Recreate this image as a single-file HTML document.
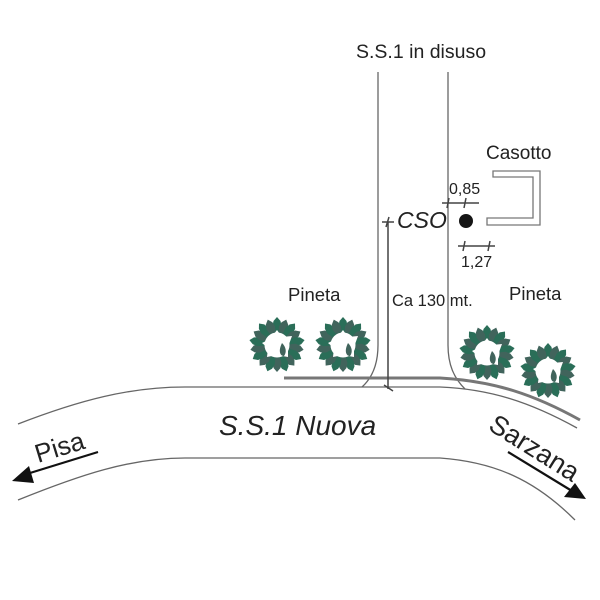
<!DOCTYPE html>
<html>
<head>
<meta charset="utf-8">
<style>
html,body{margin:0;padding:0;background:#fff;}
svg{display:block;}
text{font-family:"Liberation Sans",Arial,sans-serif;fill:#222;}
</style>
</head>
<body>
<svg width="600" height="600" viewBox="0 0 600 600" xmlns="http://www.w3.org/2000/svg">
<defs>
<path id="la" d="M0,-28 L3.5,-24 L4.5,-19 L3,-13 L-3,-13 L-4.5,-19 L-3.5,-24 Z" fill="#2a6e58"/>
<path id="lb" d="M0,-27 L3.5,-23 L4.5,-18 L3,-13 L-3,-13 L-4.5,-18 L-3.5,-23 Z" fill="#41645c"/>
<g id="tree">
  <circle r="17" fill="none" stroke="#37685a" stroke-width="9"/>
  <use href="#la" transform="rotate(0)"/>
  <use href="#lb" transform="rotate(20)"/>
  <use href="#la" transform="rotate(40)"/>
  <use href="#lb" transform="rotate(60)"/>
  <use href="#la" transform="rotate(80)"/>
  <use href="#lb" transform="rotate(100)"/>
  <use href="#la" transform="rotate(120)"/>
  <use href="#lb" transform="rotate(140)"/>
  <use href="#la" transform="rotate(160)"/>
  <use href="#lb" transform="rotate(180)"/>
  <use href="#la" transform="rotate(200)"/>
  <use href="#lb" transform="rotate(220)"/>
  <use href="#la" transform="rotate(240)"/>
  <use href="#lb" transform="rotate(260)"/>
  <use href="#la" transform="rotate(280)"/>
  <use href="#lb" transform="rotate(300)"/>
  <use href="#la" transform="rotate(320)"/>
  <use href="#lb" transform="rotate(340)"/>
  <polygon points="0,-15 5,-8 15,-9 11,2 11,12 0,10 -10,12 -9,3 -15,-2 -7,-6" fill="#fff"/>
  <path d="M5,-2 C9,2 10,7 7,11 C3,11 1,6 5,-2Z" fill="#41645c"/>
</g>
</defs>

<!-- road edges -->
<g fill="none" stroke="#666" stroke-width="1.3">
  <path d="M18,424 C80,400 130,387 185,387 L440,387 C490,389 530,402 577,428"/>
  <path d="M18,500 C80,475 130,458 185,458 L440,458 C495,462 535,480 575,520"/>
  <path d="M378,72 L378,345 C378,365 372,378 362,387"/>
  <path d="M448,72 L448,345 C448,365 454,378 465,389"/>
</g>
<path d="M284,378 L440,378 C495,381 535,395 580,420" fill="none" stroke="#777" stroke-width="3"/>

<!-- dimension line -->
<g fill="none" stroke="#444" stroke-width="1.5">
  <path d="M388,222 L388,389"/>
  <path d="M382,222 L394,222 M389,217 L386,227"/>
  <path d="M384,385 L393,391"/>
  <path d="M442,203 L479,203 M449,198 L447,208 M466,198 L464,208"/>
  <path d="M458,246 L495,246 M465,241 L463,251 M490,241 L488,251"/>
</g>

<!-- casotto -->
<polygon points="493,171 540,171 540,225 487,225 487,218 533,218 533,177 493,177" fill="none" stroke="#777" stroke-width="1.3"/>
<circle cx="466" cy="221" r="7" fill="#151515"/>

<!-- trees -->
<use href="#tree" x="277" y="345"/>
<use href="#tree" x="343" y="345"/>
<use href="#tree" x="487" y="353"/>
<use href="#tree" x="548" y="371"/>

<!-- arrows -->
<path d="M98,452 L30,473" stroke="#111" stroke-width="2.2" fill="none"/>
<polygon points="12,481 29,466 34,483" fill="#111"/>
<path d="M508,452 L572,491" stroke="#111" stroke-width="2.2" fill="none"/>
<polygon points="586,499 564,497 575,483" fill="#111"/>

<!-- labels -->
<text x="356" y="58" font-size="19.5">S.S.1 in disuso</text>
<text x="486" y="159" font-size="19">Casotto</text>
<text x="449" y="194" font-size="16">0,85</text>
<text x="461" y="267" font-size="16">1,27</text>
<text x="397" y="228" font-size="23" font-style="italic">CSO</text>
<text x="392" y="306" font-size="16.5">Ca 130 mt.</text>
<text x="288" y="301" font-size="18.5">Pineta</text>
<text x="509" y="300" font-size="18.5">Pineta</text>
<text x="219" y="435" font-size="28" font-style="italic">S.S.1 Nuova</text>
<text transform="translate(38,463) rotate(-17)" font-size="26">Pisa</text>
<text transform="translate(487,429) rotate(32)" font-size="27">Sarzana</text>
</svg>
</body>
</html>
